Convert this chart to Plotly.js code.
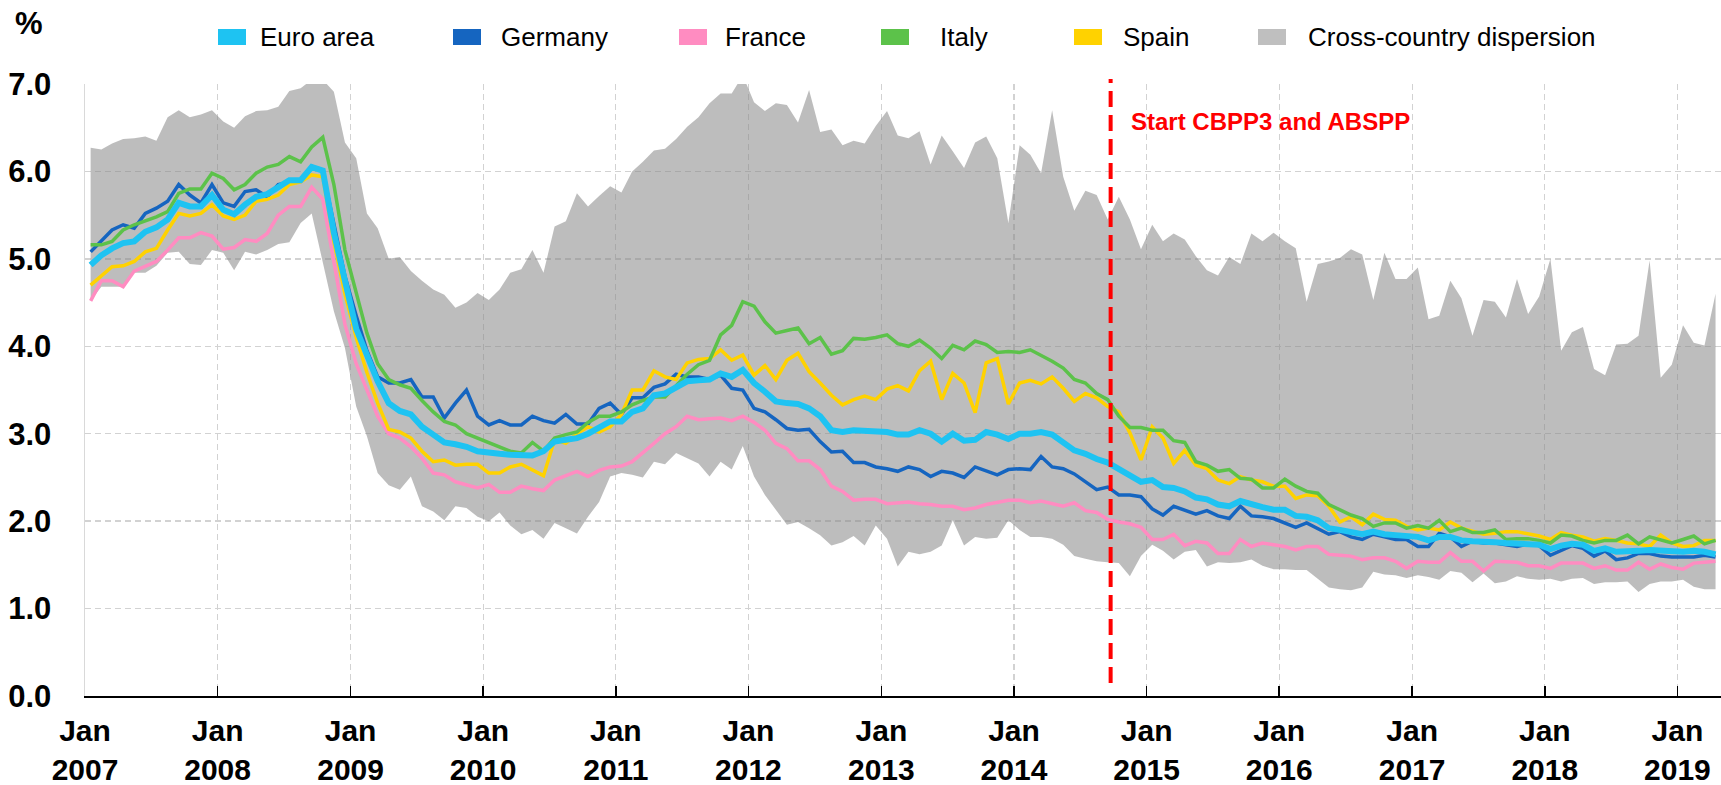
<!DOCTYPE html>
<html>
<head>
<meta charset="utf-8">
<script src="https://cdn.plot.ly/plotly-3.0.1.min.js"></script>
<style>
html,body{margin:0;padding:0;background:#fff;}
#chart{width:1721px;height:785px;}
</style>
</head>
<body>
<div id="chart"></div>
<script>
// ---------- DATA (monthly, Jan 2007 - Apr 2019, %) ----------
const startYear = 2007;
const startMonth = 1;

const euroArea = [
4.93,5.04,5.12,5.18,5.20,5.31,5.36,5.45,5.64,5.60,5.60,5.73,
5.56,5.51,5.62,5.71,5.74,5.83,5.90,5.90,6.05,6.01,5.30,4.75,
4.20,3.90,3.60,3.35,3.26,3.22,3.08,2.99,2.90,2.88,2.85,2.80,
2.78,2.77,2.76,2.75,2.75,2.80,2.91,2.93,2.95,3.00,3.08,3.14,
3.14,3.25,3.29,3.44,3.46,3.54,3.60,3.61,3.62,3.69,3.65,3.73,
3.58,3.48,3.37,3.35,3.34,3.29,3.20,3.04,3.02,3.04,3.03,3.02,
3.02,2.99,2.99,3.04,3.00,2.91,3.00,2.92,2.93,3.02,2.99,2.94,
3.00,3.00,3.02,2.99,2.90,2.81,2.77,2.71,2.67,2.59,2.51,2.45,
2.47,2.39,2.38,2.34,2.27,2.25,2.19,2.17,2.23,2.19,2.16,2.13,
2.13,2.06,2.05,2.01,1.92,1.90,1.87,1.85,1.88,1.85,1.84,1.83,
1.82,1.78,1.82,1.82,1.78,1.77,1.77,1.76,1.75,1.74,1.74,1.73,
1.68,1.72,1.74,1.73,1.66,1.69,1.65,1.65,1.66,1.67,1.66,1.65,
1.65,1.66,1.65,1.62];

const germany = [
5.08,5.20,5.33,5.39,5.35,5.52,5.58,5.66,5.85,5.73,5.64,5.85,
5.64,5.60,5.77,5.79,5.71,5.85,5.87,5.90,6.06,6.00,5.40,4.80,
4.35,3.95,3.65,3.58,3.58,3.62,3.42,3.42,3.18,3.35,3.50,3.20,
3.10,3.15,3.10,3.10,3.20,3.15,3.12,3.22,3.11,3.11,3.29,3.35,
3.22,3.41,3.41,3.53,3.57,3.68,3.65,3.65,3.62,3.67,3.52,3.50,
3.29,3.25,3.16,3.06,3.04,3.05,2.91,2.79,2.80,2.67,2.67,2.62,
2.60,2.57,2.62,2.59,2.51,2.57,2.55,2.50,2.62,2.58,2.53,2.59,
2.60,2.59,2.74,2.62,2.60,2.54,2.45,2.36,2.39,2.30,2.30,2.28,
2.14,2.07,2.17,2.12,2.08,2.12,2.06,2.03,2.17,2.06,2.05,2.03,
1.98,1.93,1.98,1.92,1.85,1.88,1.82,1.79,1.85,1.82,1.79,1.79,
1.71,1.71,1.86,1.82,1.71,1.77,1.75,1.75,1.73,1.71,1.74,1.72,
1.61,1.67,1.72,1.69,1.60,1.66,1.56,1.58,1.63,1.63,1.60,1.59,
1.59,1.59,1.61,1.59];

const france = [
4.52,4.75,4.75,4.68,4.86,4.92,4.97,5.10,5.24,5.24,5.30,5.26,
5.11,5.13,5.22,5.20,5.29,5.50,5.60,5.60,5.82,5.68,4.95,4.25,
3.80,3.50,3.20,3.00,2.95,2.85,2.72,2.55,2.53,2.45,2.42,2.38,
2.42,2.33,2.33,2.40,2.37,2.35,2.47,2.52,2.57,2.51,2.58,2.62,
2.63,2.68,2.78,2.89,3.00,3.08,3.20,3.16,3.17,3.18,3.15,3.20,
3.13,3.04,2.89,2.83,2.69,2.69,2.59,2.40,2.34,2.24,2.25,2.25,
2.20,2.21,2.22,2.20,2.19,2.17,2.17,2.13,2.15,2.19,2.22,2.24,
2.24,2.21,2.23,2.20,2.17,2.21,2.12,2.10,2.02,1.99,1.97,1.93,
1.79,1.79,1.85,1.72,1.77,1.75,1.63,1.63,1.79,1.71,1.75,1.73,
1.71,1.67,1.71,1.71,1.62,1.61,1.60,1.56,1.58,1.58,1.54,1.46,
1.54,1.53,1.53,1.64,1.54,1.54,1.43,1.54,1.54,1.53,1.49,1.49,
1.46,1.52,1.52,1.52,1.46,1.49,1.44,1.44,1.53,1.45,1.51,1.47,
1.45,1.52,1.53,1.54];

const italy = [
5.16,5.16,5.20,5.33,5.39,5.43,5.48,5.54,5.75,5.80,5.80,5.98,
5.92,5.79,5.85,5.98,6.05,6.08,6.17,6.11,6.28,6.39,5.85,5.10,
4.60,4.15,3.80,3.62,3.56,3.52,3.38,3.25,3.14,3.10,3.00,2.95,
2.90,2.85,2.80,2.78,2.90,2.80,2.95,2.99,3.02,3.13,3.20,3.20,
3.25,3.33,3.38,3.42,3.42,3.55,3.68,3.79,3.84,4.13,4.24,4.51,
4.46,4.28,4.15,4.18,4.21,4.03,4.10,3.91,3.95,4.09,4.08,4.10,
4.13,4.03,4.00,4.07,3.98,3.86,4.01,3.96,4.06,4.02,3.93,3.94,
3.93,3.96,3.90,3.83,3.75,3.62,3.58,3.46,3.39,3.20,3.07,3.07,
3.04,3.04,2.92,2.90,2.68,2.64,2.57,2.59,2.49,2.48,2.38,2.38,
2.48,2.40,2.34,2.32,2.19,2.13,2.07,2.03,1.94,1.98,1.98,1.92,
1.95,1.92,2.01,1.88,1.92,1.87,1.87,1.90,1.79,1.80,1.80,1.78,
1.75,1.84,1.83,1.78,1.75,1.78,1.78,1.84,1.74,1.82,1.79,1.75,
1.79,1.83,1.74,1.78];

const spain = [
4.70,4.80,4.91,4.92,4.97,5.08,5.12,5.33,5.52,5.49,5.52,5.62,
5.49,5.45,5.50,5.66,5.68,5.73,5.85,5.88,5.96,5.94,5.20,4.60,
4.10,3.70,3.35,3.05,3.02,2.95,2.80,2.68,2.70,2.64,2.65,2.65,
2.55,2.55,2.62,2.65,2.58,2.52,2.93,2.89,3.00,3.08,3.02,3.08,
3.22,3.50,3.50,3.72,3.65,3.62,3.81,3.85,3.86,3.96,3.84,3.90,
3.67,3.78,3.62,3.84,3.92,3.71,3.58,3.44,3.33,3.39,3.43,3.39,
3.51,3.55,3.49,3.72,3.83,3.39,3.69,3.58,3.24,3.81,3.86,3.34,
3.58,3.61,3.57,3.65,3.52,3.37,3.46,3.41,3.31,3.25,3.01,2.70,
3.08,2.95,2.66,2.81,2.64,2.60,2.47,2.43,2.51,2.47,2.45,2.40,
2.40,2.26,2.30,2.29,2.17,1.99,2.05,1.96,2.08,2.02,2.01,1.94,
1.90,1.92,1.90,1.99,1.92,1.88,1.85,1.86,1.88,1.88,1.86,1.83,
1.79,1.87,1.84,1.82,1.77,1.80,1.78,1.75,1.74,1.71,1.84,1.75,
1.71,1.72,1.78,1.78];

// cross-country dispersion: maximum and minimum
const dispersionMax = [
6.27,6.25,6.32,6.37,6.38,6.40,6.35,6.62,6.70,6.62,6.65,6.70,
6.57,6.50,6.63,6.69,6.70,6.74,6.92,6.95,7.05,7.05,6.91,6.33,
6.15,5.52,5.35,5.00,5.02,4.86,4.75,4.65,4.59,4.44,4.50,4.61,
4.53,4.65,4.84,4.88,5.10,4.84,5.37,5.43,5.75,5.60,5.72,5.83,
5.76,6.00,6.11,6.24,6.26,6.37,6.51,6.62,6.78,6.89,6.89,7.10,
6.79,6.69,6.78,6.76,6.56,6.93,6.45,6.48,6.30,6.35,6.32,6.52,
6.69,6.41,6.38,6.46,6.08,6.41,6.23,6.04,6.33,6.40,6.15,5.41,
6.30,6.19,5.98,6.70,5.94,5.55,5.78,5.73,5.45,5.71,5.45,5.11,
5.39,5.20,5.29,5.22,5.03,4.87,4.81,5.02,4.94,5.29,5.20,5.30,
5.20,5.12,4.51,4.94,4.97,5.01,5.11,5.05,4.53,5.07,4.77,4.77,
4.90,4.31,4.35,4.75,4.55,4.12,4.53,4.51,4.33,4.77,4.37,4.57,
5.00,3.95,4.16,4.22,3.74,3.67,4.02,4.03,4.12,4.98,3.64,3.79,
4.24,4.04,4.01,4.60];

const dispersionMin = [
4.52,4.68,4.68,4.68,4.84,4.84,4.92,5.07,5.08,4.94,4.93,5.10,
5.07,4.87,5.08,5.05,5.10,5.17,5.19,5.41,5.52,4.95,4.40,3.98,
3.31,2.97,2.55,2.41,2.36,2.51,2.17,2.11,2.01,2.17,2.15,2.05,
2.00,2.10,1.95,1.85,1.90,1.80,1.98,1.92,1.86,2.05,2.22,2.51,
2.55,2.53,2.50,2.68,2.65,2.78,2.72,2.66,2.51,2.68,2.59,2.86,
2.51,2.30,2.13,1.96,1.99,1.92,1.84,1.72,1.76,1.83,1.72,1.95,
1.80,1.48,1.65,1.62,1.65,1.72,2.01,1.72,1.82,1.80,1.81,2.01,
1.90,1.82,1.82,1.80,1.73,1.60,1.57,1.54,1.53,1.52,1.37,1.60,
1.73,1.66,1.56,1.65,1.67,1.48,1.53,1.52,1.53,1.56,1.49,1.45,
1.45,1.44,1.44,1.34,1.24,1.22,1.21,1.24,1.42,1.39,1.38,1.35,
1.38,1.36,1.33,1.43,1.41,1.30,1.40,1.29,1.31,1.37,1.34,1.33,
1.34,1.31,1.34,1.35,1.28,1.30,1.30,1.31,1.19,1.28,1.31,1.31,
1.33,1.25,1.22,1.22];

const seriesNames = ['Euro area','Germany','France','Italy','Spain','Cross-country dispersion'];
const tickYears = [2007,2008,2009,2010,2011,2012,2013,2014,2015,2016,2017,2018,2019];
const tickLabels = tickYears.map(y => 'Jan<br>' + y);
const yTickValues = [0,1,2,3,4,5,6,7];
const eventDate = '2014-09-24';
const eventLabel = 'Start CBPP3 and ABSPP';
const unitLabel = '%';

// month categories
const months = euroArea.map((_, i) => {
  const k = startMonth - 1 + i;
  const y = startYear + Math.floor(k / 12);
  const m = (k % 12) + 1;
  return y + '-' + String(m).padStart(2, '0');
});

// ---------- STYLE ----------
const FONT = '"Liberation Sans", Arial, Helvetica, sans-serif';
const colors = {
  euro: '#1EC3F2',
  germany: '#1565C0',
  france: '#FF8CC1',
  italy: '#5CC24A',
  spain: '#FFD200',
  band: '#BFBFBF'
};
const W = 1721, H = 785;
const PL = 85, PR = 1721, PT = 84, PB = 696;
const px = v => (v - PL) / (PR - PL);
const py = v => (PB - v) / (PB - PT);

const common = {x: months, xperiod: 'M1', xperiodalignment: 'middle', mode: 'lines', hoverinfo: 'skip', showlegend: false};

const traces = [
  Object.assign({}, common, {y: dispersionMin, name: seriesNames[5] + ' (min)', line: {width: 0, color: colors.band}}),
  Object.assign({}, common, {y: dispersionMax, name: seriesNames[5], fill: 'tonexty', fillcolor: 'rgba(138,138,138,0.56)', line: {width: 0, color: colors.band}}),
  Object.assign({}, common, {y: france, name: seriesNames[2], line: {width: 3.5, color: colors.france}}),
  Object.assign({}, common, {y: germany, name: seriesNames[1], line: {width: 3.5, color: colors.germany}}),
  Object.assign({}, common, {y: spain, name: seriesNames[4], line: {width: 3.5, color: colors.spain}}),
  Object.assign({}, common, {y: italy, name: seriesNames[3], line: {width: 3.5, color: colors.italy}}),
  Object.assign({}, common, {y: euroArea, name: seriesNames[0], line: {width: 6, color: colors.euro}})
];

// legend (drawn as swatches + text)
const legendColors = [colors.euro, colors.germany, colors.france, colors.italy, colors.spain, colors.band];
const legendSwatchX = [218, 453, 679, 881, 1074, 1258];
const legendTextX = [258, 499, 723, 938, 1121, 1306];

const shapes = [];
const annotations = [];
seriesNames.forEach((n, i) => {
  shapes.push({type: 'rect', xref: 'paper', yref: 'paper',
    x0: px(legendSwatchX[i]), x1: px(legendSwatchX[i] + 28),
    y0: py(45), y1: py(29), fillcolor: legendColors[i], line: {width: 0}});
  annotations.push({xref: 'paper', yref: 'paper', x: px(legendTextX[i]), y: py(37),
    xanchor: 'left', yanchor: 'middle', text: n, showarrow: false,
    font: {family: FONT, size: 26, color: '#000'}});
});

// event line
shapes.push({type: 'line', xref: 'x', yref: 'paper', x0: eventDate, x1: eventDate,
  y0: py(683), y1: py(79), line: {color: '#FF0000', width: 4, dash: '16px,8px'}});
annotations.push({xref: 'paper', yref: 'paper', x: px(1129), y: py(121),
  xanchor: 'left', yanchor: 'middle', text: eventLabel, showarrow: false,
  font: {family: FONT, size: 24, color: '#FF0000', weight: 700}});
// unit label
annotations.push({xref: 'paper', yref: 'paper', x: px(13), y: py(24),
  xanchor: 'left', yanchor: 'middle', text: unitLabel, showarrow: false,
  font: {family: FONT, size: 31, color: '#000', weight: 700}});

const tickVals = tickYears.map(y => y + '-01-01');
const xRange = ['2007-01-01', '2019-05-01'];

const layout = {
  width: W, height: H,
  margin: {l: PL, r: W - PR, t: PT, b: H - PB, pad: 0},
  paper_bgcolor: '#fff', plot_bgcolor: '#fff',
  showlegend: false,
  font: {family: FONT, color: '#000'},
  xaxis: {
    type: 'date', range: xRange,
    tickmode: 'array', tickvals: tickVals, ticktext: tickLabels,
    tickfont: {family: FONT, size: 30, color: '#000', weight: 700},
    ticks: 'inside', ticklen: 10, tickwidth: 1.5, tickcolor: '#000',
    showline: true, linecolor: '#000', linewidth: 1.5,
    showgrid: true, gridcolor: '#d2d2d2', gridwidth: 1.3, griddash: '6px,4px',
    zeroline: false, ticklabelstandoff: 7
  },
  xaxis2: {
    type: 'date', range: xRange, overlaying: 'x', anchor: 'y',
    tickmode: 'array', tickvals: tickVals,
    ticks: 'outside', ticklen: 10, tickwidth: 1.5, tickcolor: '#000',
    showticklabels: false, showgrid: false, showline: false, zeroline: false
  },
  yaxis: {
    range: [0, 7], tickmode: 'array', tickvals: yTickValues, tickformat: '.1f',
    tickfont: {family: FONT, size: 31, color: '#000', weight: 700},
    ticks: '', showline: true, linecolor: '#d9d9d9', linewidth: 1.5,
    showgrid: true, gridcolor: '#d2d2d2', gridwidth: 1.3, griddash: '6px,4px',
    zeroline: false, ticklabelstandoff: 26
  },
  shapes: shapes,
  annotations: annotations
};

Plotly.newPlot('chart', traces, layout, {displayModeBar: false, staticPlot: true});
</script>
</body>
</html>
